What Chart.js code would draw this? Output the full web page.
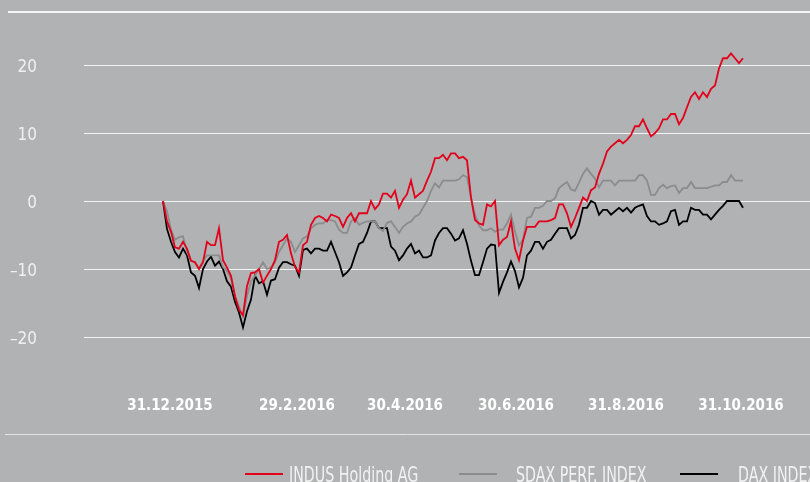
<!DOCTYPE html>
<html>
<head>
<meta charset="utf-8">
<script src="https://cdn.jsdelivr.net/npm/chart.js@4.4.1/dist/chart.umd.min.js"></script>
<style>
  html, body { margin: 0; padding: 0; background: #b1b2b4; overflow: hidden; }
  #wrap { width: 810px; height: 482px; }
</style>
</head>
<body>
<div id="wrap"><canvas id="c" width="810" height="482"></canvas></div>
<script>
// Wertentwicklung in %, Index 0 = 31.12.2015
const seriesNames = ['INDUS Holding AG', 'SDAX PERF. INDEX', 'DAX INDEX'];

const indus = [
  0, -3, -4.5, -6.8, -7, -6, -7, -8.8, -9, -10,
  -9, -6, -6.5, -6.5, -4, -8.7, -9.8, -11, -14, -16,
  -16.8, -12.5, -10.6, -10.5, -10, -12, -11, -10, -8.7, -6,
  -5.7, -5, -7.7, -9.7, -10.5, -6.5, -6, -3.5, -2.5, -2.2,
  -2.5, -3, -2, -2.2, -2.5, -3.8, -2.5, -1.8, -3, -1.8,
  -1.8, -1.8, 0, -1.2, -0.5, 1.1, 1.1, 0.5, 1.5, -1,
  0.2, 1, 3, 0.5, 1, 1.5, 3, 4.3, 6.3, 6.3,
  6.8, 6, 7, 7, 6.3, 6.5, 6, 0.5, -2.8, -3.3,
  -3.5, -0.5, -0.8, 0, -6.5, -5.7, -5.3, -3, -7, -8.7,
  -5.8, -3.8, -3.8, -3.8, -3, -3, -3, -2.8, -2.5, -0.5,
  -0.5, -1.8, -3.8, -2.5, -1, 0.5, 0, 1.6, 2, 4,
  5.5, 7.3, 8, 8.5, 9, 8.5, 9, 9.7, 11, 11,
  12, 10.7, 9.5, 10, 10.7, 12, 12, 12.8, 12.8, 11.3,
  12.2, 13.8, 15.3, 16, 15, 16, 15.3, 16.5, 17, 19.5,
  21, 21, 21.7, 21, 20.3, 21
];

const sdax = [
  0, -1.5, -4.2, -5.7, -5.3, -5.2, -7.5, -8.8, -9, -10,
  -8.8, -8, -8, -8, -8, -9.7, -10.3, -11.5, -14, -15.5,
  -17, -14, -11.8, -11, -10, -9, -10, -9.8, -9, -7.5,
  -6.5, -5.5, -6, -7.5, -6.5, -5.5, -5.2, -4, -3.5, -3.3,
  -3.3, -2.8, -2.8, -3, -4.2, -4.7, -4.7, -3, -2.5, -3.5,
  -3.2, -3, -3, -3, -4, -4.4, -3.2, -3, -3.8, -4.7,
  -3.8, -3.3, -3, -2.3, -2, -1, 0, 1.5, 2.6, 2,
  3, 3, 3, 3, 3.2, 3.8, 3.5, 0.5, -2, -3.6,
  -4.3, -4.3, -4, -4.5, -4.2, -4.2, -3.3, -2, -4.5, -6.5,
  -5.7, -2.5, -2.3, -1, -1, -0.7, 0, 0, 0.4, 1.9,
  2.4, 2.8, 1.7, 1.5, 2.7, 4, 4.8, 4, 3.3, 2,
  3, 3, 3, 2.3, 3, 3, 3, 3, 3, 3.8,
  3.8, 3, 0.9, 0.9, 1.9, 2.4, 1.9, 2.2, 2.3, 1.2,
  1.9, 1.9, 2.8, 1.9, 1.9, 1.9, 1.9, 2.1, 2.3, 2.3,
  2.8, 2.8, 3.8, 3, 3, 3
];

const dax = [
  0, -4.1, -6, -7.5, -8.3, -7, -8, -10.5, -11, -12.8,
  -10, -8.9, -8.2, -9.5, -8.9, -10, -11.8, -12.6, -14.8, -16.4,
  -18.6, -16.2, -14.5, -11, -12.1, -11.8, -13.8, -11.7, -11.5, -9.8,
  -9, -9, -9.3, -9.5, -11, -7.2, -7, -7.7, -7, -7,
  -7.3, -7.3, -6, -7.5, -9, -11, -10.5, -9.8, -8, -6.3,
  -6, -4.7, -3, -3, -4, -4, -4, -6.7, -7.3, -8.7,
  -8, -7, -6.3, -7.7, -7.3, -8.3, -8.3, -8, -5.8, -4.7,
  -4, -4, -4.8, -5.8, -5.5, -4.3, -6.3, -8.8, -10.9, -10.9,
  -9, -7, -6.4, -6.5, -13.5, -11.9, -10.5, -8.9, -10.3, -12.7,
  -11.3, -8, -7.3, -6, -6, -7, -6, -5.7, -4.8, -4,
  -4, -4, -5.5, -5, -3.5, -1, -1, 0, -0.3, -2,
  -1.3, -1.3, -2, -1.5, -1, -1.5, -1, -1.7, -1, -0.7,
  -0.5, -2.2, -3, -3, -3.5, -3.3, -3, -1.5, -1.3, -3.5,
  -3, -3, -1, -1.3, -1.3, -2, -2, -2.7, -2, -1.3,
  -0.7, 0, 0, 0, 0, -1
];

// Achsenbeschriftung
const xTickLabels = ['31.12.2015', '29.2.2016', '30.4.2016', '30.6.2016', '31.8.2016', '31.10.2016'];
const xTickAt = [1.75, 33.5, 60.5, 88.25, 115.75, 144.5];
const yTicks = [-20, -10, 0, 10, 20];

const colors = ['#e2001a', '#8c8c8c', '#000000'];
const FONT = '"DejaVu Sans Condensed", "Liberation Sans Narrow", "DejaVu Sans", sans-serif';

const toPoints = arr => arr.map((v, i) => ({ x: i, y: v }));

// keine automatische Randabstände durch Beschriftungen
const noPadding = a => {
  a.paddingLeft = 0;
  a.paddingRight = 0;
  a.paddingTop = 0;
  a.paddingBottom = 0;
};

// Rahmenlinien oben und unten
const frameLines = {
  id: 'frameLines',
  beforeDraw(chart) {
    const ctx = chart.ctx;
    ctx.save();
    ctx.strokeStyle = '#f6f6f6';
    ctx.lineWidth = 2;
    ctx.beginPath();
    ctx.moveTo(8, 12);
    ctx.lineTo(810, 12);
    ctx.stroke();
    ctx.strokeStyle = '#e4e4e4';
    ctx.lineWidth = 1;
    ctx.beginPath();
    ctx.moveTo(5, 434.5);
    ctx.lineTo(810, 434.5);
    ctx.stroke();
    ctx.restore();
  }
};

// Legende unten (schmale Schrift)
const legendRow = {
  id: 'legendRow',
  afterDraw(chart) {
    const ctx = chart.ctx;
    const lineX = [245, 459, 680];
    const textX = [289, 516, 738];
    ctx.save();
    chart.data.datasets.forEach((ds, i) => {
      ctx.strokeStyle = ds.borderColor;
      ctx.lineWidth = 1.8;
      ctx.beginPath();
      ctx.moveTo(lineX[i], 474);
      ctx.lineTo(lineX[i] + 38, 474);
      ctx.stroke();
      ctx.save();
      ctx.translate(textX[i], 482);
      ctx.scale(0.72, 1);
      ctx.font = '22px ' + FONT;
      ctx.fillStyle = '#f2f2f2';
      ctx.textBaseline = 'alphabetic';
      ctx.fillText(ds.label, 0, 0);
      ctx.restore();
    });
    ctx.restore();
  }
};

new Chart(document.getElementById('c'), {
  type: 'line',
  data: {
    datasets: [
      { label: seriesNames[0], data: toPoints(indus), borderColor: colors[0] },
      { label: seriesNames[1], data: toPoints(sdax), borderColor: colors[1] },
      { label: seriesNames[2], data: toPoints(dax), borderColor: colors[2] }
    ]
  },
  options: {
    responsive: false,
    devicePixelRatio: 1,
    animation: false,
    layout: { padding: { top: 12, left: 0, right: 0, bottom: 0 } },
    elements: {
      line: { borderWidth: 1.8, tension: 0 },
      point: { radius: 0 }
    },
    scales: {
      x: {
        type: 'linear',
        min: -19.75,
        max: 161.75,
        afterBuildTicks: a => { a.ticks = xTickAt.map(v => ({ value: v })); },
        afterFit: a => { a.height = 145; noPadding(a); },
        grid: { display: false },
        border: { display: false },
        ticks: {
          autoSkip: false,
          maxRotation: 0,
          padding: 52,
          color: '#ffffff',
          font: { family: FONT, size: 15, weight: 'bold' },
          callback: (v, i) => xTickLabels[i]
        }
      },
      y: {
        min: -20,
        max: 27.8,
        afterBuildTicks: a => { a.ticks = yTicks.map(v => ({ value: v })); },
        afterFit: a => { a.width = 84; noPadding(a); },
        grid: { color: '#f4f4f4', lineWidth: 1, drawTicks: false },
        border: { display: false },
        ticks: {
          padding: 47,
          labelOffset: 3,
          color: '#f0f0f0',
          font: { family: FONT, size: 17 },
          callback: v => v < 0 ? '–' + (-v) : String(v)
        }
      }
    },
    plugins: {
      legend: { display: false },
      tooltip: { enabled: false }
    }
  },
  plugins: [frameLines, legendRow]
});
</script>
</body>
</html>
